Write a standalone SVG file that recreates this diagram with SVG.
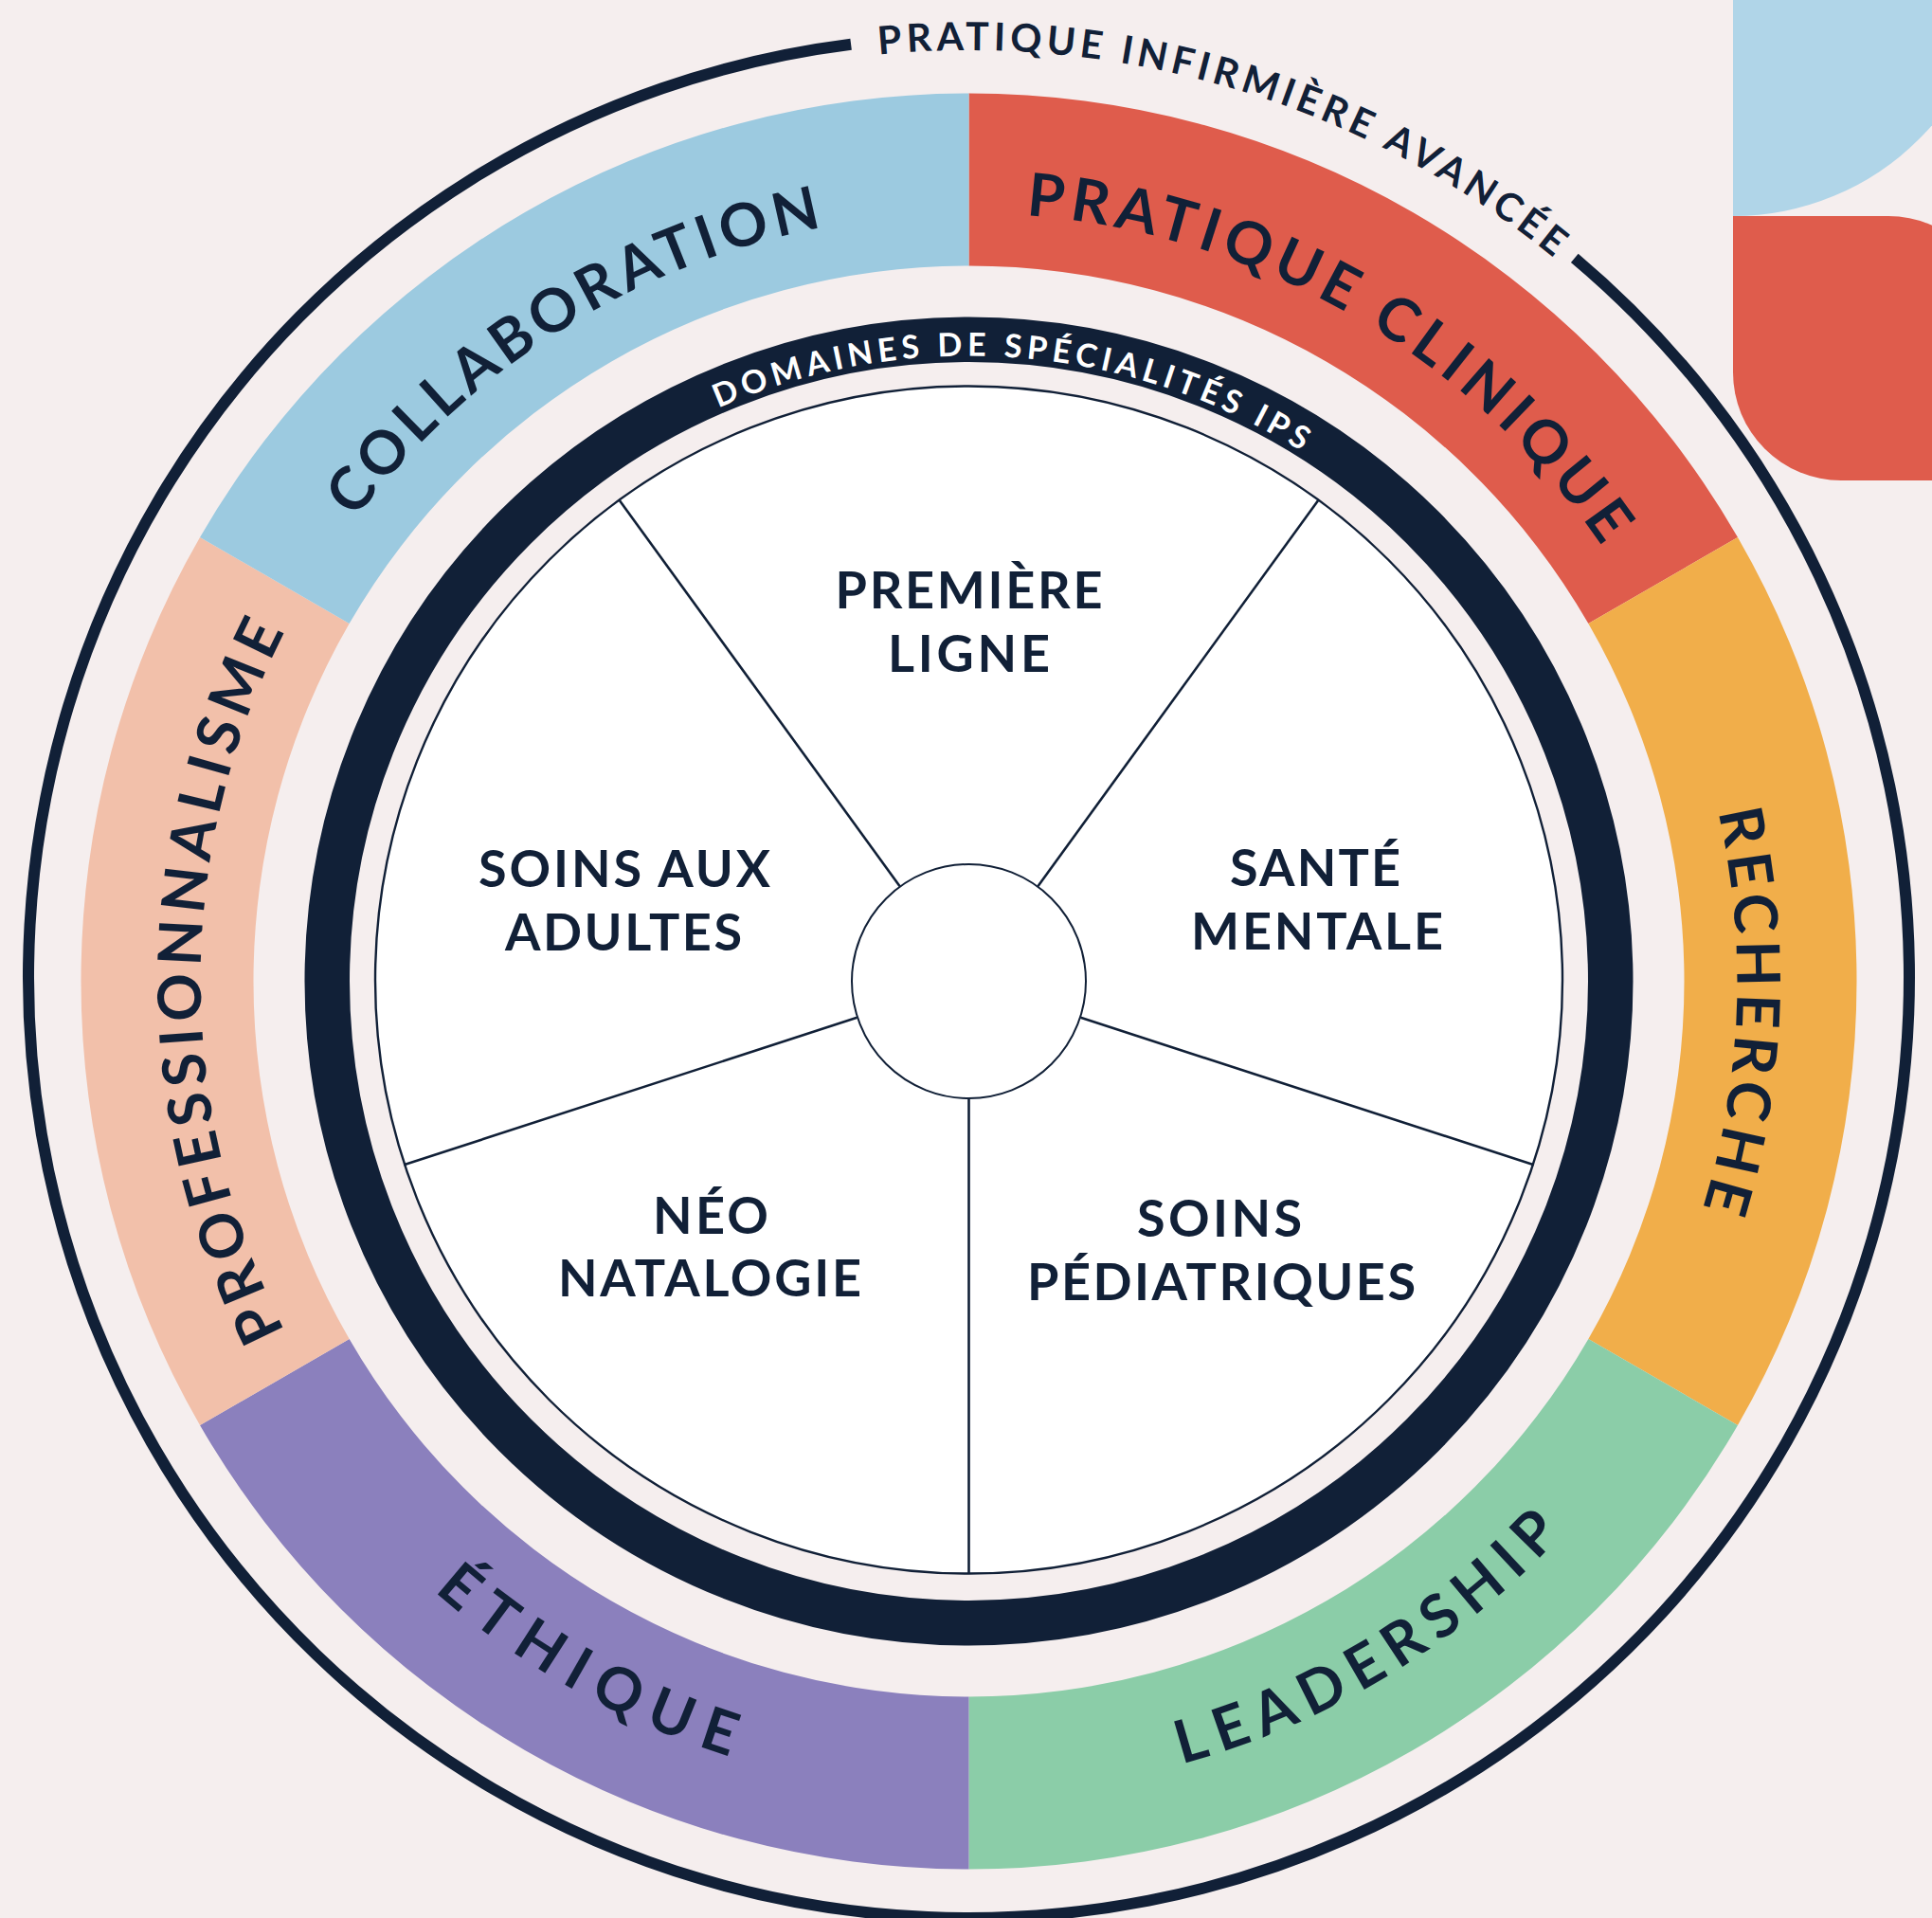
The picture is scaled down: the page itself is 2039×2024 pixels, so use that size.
<svg xmlns="http://www.w3.org/2000/svg" xmlns:xlink="http://www.w3.org/1999/xlink" width="2039" height="2024" viewBox="0 0 2039 2024">
  <style>
    .lbl { font-family: Lato, "Noto Sans", "DejaVu Sans", sans-serif; font-weight: 700; fill: #112037; }
    .inner { font-size: 54px; text-anchor: middle; }
    .band { font-size: 63px; }
    .ring-lbl { font-size: 41px; }
    .dom { font-family: Lato, "Noto Sans", "DejaVu Sans", sans-serif; font-weight: 700; font-size: 34px; fill: #ffffff; }
    .spoke { stroke: #112037; stroke-width: 2.6; fill: none; }
  </style>
  <defs>
    <!-- clockwise circles starting at the bottom (text reads outward-up) -->
    <path id="cwBand" d="M1022.5,1846 A810.5,810.5 0 1 1 1022.5,225 A810.5,810.5 0 1 1 1022.5,1846"/>
    <path id="cwDom" d="M1022.5,1695.5 A660,660 0 1 1 1022.5,375.5 A660,660 0 1 1 1022.5,1695.5"/>
    <path id="cwOuter" d="M1022.5,2010 A978.5,978.5 0 1 1 1022.5,53 A978.5,978.5 0 1 1 1022.5,2010"/>
    <!-- counter-clockwise circle starting at the top (text along the bottom) -->
    <path id="ccwBand" d="M1022.5,179.5 A856,856 0 1 0 1022.5,1891.5 A856,856 0 1 0 1022.5,179.5"/>
  </defs>

  <rect width="2039" height="2024" fill="#f5eeee"/>

  <!-- corner ornaments -->
  <g id="corner-shapes">
    <path d="M1829,-50 L2107,-50 A278,278 0 0 1 1829,228 Z" fill="#b0d5e8"/>
    <path d="M1829,228 H1993 A114,114 0 0 1 2107,342 V507 H1943 A114,114 0 0 1 1829,393 Z" fill="#df5c4c"/>
  </g>

  <!-- outer ring with its label -->
  <g id="pratique-avancee">
    <path d="M1661.8,272.3 A992.5,992.5 0 1 1 898.1,46.8" fill="none" stroke="#112037" stroke-width="12"/>
    <text class="lbl ring-lbl"><textPath href="#cwOuter" startOffset="54.653%" text-anchor="middle" textLength="763" lengthAdjust="spacing">PRATIQUE INFIRMIÈRE AVANCÉE</textPath></text>
  </g>

  <!-- competency band -->
  <g id="pratique-clinique">
    <path d="M1022.5,98.5 A937,937 0 0 1 1833.97,567 L1676.35,658 A755,755 0 0 0 1022.5,280.5 Z" fill="#df5c4c"/>
    <text class="lbl band"><textPath href="#cwBand" startOffset="58.3%" text-anchor="middle" textLength="725" lengthAdjust="spacing">PRATIQUE CLINIQUE</textPath></text>
  </g>
  <g id="recherche">
    <path d="M1833.97,567 A937,937 0 0 1 1833.97,1504 L1676.35,1413 A755,755 0 0 0 1676.35,658 Z" fill="#f1ae4a"/>
    <text class="lbl band"><textPath href="#cwBand" startOffset="75.611%" text-anchor="middle" textLength="423" lengthAdjust="spacing">RECHERCHE</textPath></text>
  </g>
  <g id="leadership">
    <path d="M1833.97,1504 A937,937 0 0 1 1022.5,1972.5 L1022.5,1790.5 A755,755 0 0 0 1676.35,1413 Z" fill="#8bcda8"/>
    <text class="lbl band"><textPath href="#ccwBand" startOffset="58.639%" text-anchor="middle" textLength="475" lengthAdjust="spacing">LEADERSHIP</textPath></text>
  </g>
  <g id="ethique">
    <path d="M1022.5,1972.5 A937,937 0 0 1 211.03,1504 L368.65,1413 A755,755 0 0 0 1022.5,1790.5 Z" fill="#8b80bd"/>
    <text class="lbl band"><textPath href="#ccwBand" startOffset="41.889%" text-anchor="middle" textLength="360" lengthAdjust="spacing">ÉTHIQUE</textPath></text>
  </g>
  <g id="professionnalisme">
    <path d="M211.03,1504 A937,937 0 0 1 211.03,567 L368.65,658 A755,755 0 0 0 368.65,1413 Z" fill="#f2c0aa"/>
    <text class="lbl band"><textPath href="#cwBand" startOffset="25%" text-anchor="middle" textLength="767" lengthAdjust="spacing">PROFESSIONNALISME</textPath></text>
  </g>
  <g id="collaboration">
    <path d="M211.03,567 A937,937 0 0 1 1022.5,98.5 L1022.5,280.5 A755,755 0 0 0 368.65,658 Z" fill="#9ccae0"/>
    <text class="lbl band"><textPath href="#cwBand" startOffset="41.111%" text-anchor="middle" textLength="594" lengthAdjust="spacing">COLLABORATION</textPath></text>
  </g>

  <!-- specialty domains ring -->
  <g id="domaines">
    <circle cx="1022.5" cy="1035.5" r="677.25" fill="none" stroke="#112037" stroke-width="47.5"/>
    <text class="dom"><textPath href="#cwDom" startOffset="51.181%" text-anchor="middle" textLength="642" lengthAdjust="spacing">DOMAINES DE SPÉCIALITÉS IPS</textPath></text>
    <circle cx="1022.5" cy="1034" r="626.5" fill="#ffffff" stroke="#112037" stroke-width="2.4"/>
  </g>

  <!-- spokes dividing the five specialties -->
  <g id="spokes">
    <line class="spoke" x1="1095.39" y1="935.18" x2="1391.04" y2="528.25"/>
    <line class="spoke" x1="1140.43" y1="1073.82" x2="1618.81" y2="1229.25"/>
    <line class="spoke" x1="1022.5" y1="1159.5" x2="1022.5" y2="1660.5"/>
    <line class="spoke" x1="904.57" y1="1073.82" x2="426.19" y2="1229.25"/>
    <line class="spoke" x1="949.61" y1="935.18" x2="653.96" y2="528.25"/>
  </g>

  <g id="hub">
    <circle cx="1022.5" cy="1035.5" r="123.5" fill="#ffffff" stroke="#112037" stroke-width="2"/>
  </g>

  <g id="premiere-ligne">
    <text class="lbl inner" x="1022.5" y="642" textLength="282" lengthAdjust="spacing">PREMIÈRE</text>
    <text class="lbl inner" x="1022.5" y="708.5" textLength="171" lengthAdjust="spacing">LIGNE</text>
  </g>
  <g id="sante-mentale">
    <text class="lbl inner" x="1388" y="935" textLength="180" lengthAdjust="spacing">SANTÉ</text>
    <text class="lbl inner" x="1390" y="1002" textLength="266" lengthAdjust="spacing">MENTALE</text>
  </g>
  <g id="soins-pediatriques">
    <text class="lbl inner" x="1287" y="1305" textLength="174" lengthAdjust="spacing">SOINS</text>
    <text class="lbl inner" x="1289" y="1372" textLength="410" lengthAdjust="spacing">PÉDIATRIQUES</text>
  </g>
  <g id="neonatalogie">
    <text class="lbl inner" x="750" y="1302" textLength="122" lengthAdjust="spacing">NÉO</text>
    <text class="lbl inner" x="749" y="1367.5" textLength="320" lengthAdjust="spacing">NATALOGIE</text>
  </g>
  <g id="soins-adultes">
    <text class="lbl inner" x="659" y="936" textLength="308" lengthAdjust="spacing">SOINS AUX</text>
    <text class="lbl inner" x="658" y="1003" textLength="250" lengthAdjust="spacing">ADULTES</text>
  </g>
</svg>
